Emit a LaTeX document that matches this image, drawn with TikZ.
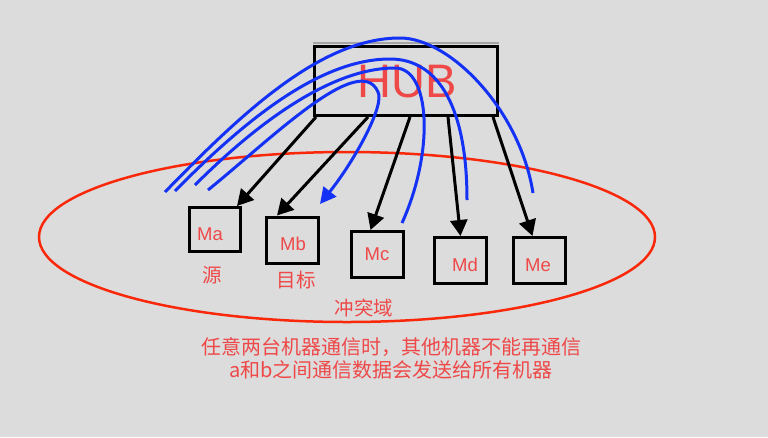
\documentclass[tikz,border=0pt]{standalone}
\usepackage{fontspec}
\setmainfont{Liberation Sans}
\newfontfamily\cjk{Noto Sans CJK SC}
\usetikzlibrary{arrows.meta,shapes.geometric,calc}
\definecolor{bgc}{RGB}{220,220,220}
\definecolor{txtred}{RGB}{238,72,72}
\definecolor{ellred}{RGB}{250,40,10}
\definecolor{flowblue}{RGB}{20,50,245}
\definecolor{shadowgray}{RGB}{165,165,165}
\begin{document}
\begin{tikzpicture}[x=1pt,y=-1pt,
  mbox/.style={draw=black, line width=3pt, minimum width=52pt, minimum height=46pt, inner sep=0pt},
  mlab/.style={text=txtred, font=\fontsize{18.5}{20}\selectfont, inner sep=0pt},
  cjklab/.style={text=txtred, font=\cjk\fontsize{19.5}{22}\selectfont, inner sep=0pt},
  link/.style={draw=black, line width=3pt, -{Triangle[length=16pt,width=17pt]}},
  flow/.style={draw=flowblue, line width=3pt},
]
\fill[bgc] (0,0) rectangle (768,437);
\useasboundingbox (0,0) rectangle (768,437);

% collision domain
\node[draw=ellred, line width=2.5pt, ellipse, minimum width=616pt, minimum height=170pt, inner sep=0pt] (dom) at (347,237) {};

% hub
\draw[shadowgray, line width=2pt] (313,42.5) -- (499,42.5);
\node[draw=black, line width=3pt, minimum width=183pt, minimum height=69pt, inner sep=0pt] (hub) at (406,81) {};
\node[text=txtred, font=\fontsize{47}{50}\selectfont, inner sep=0pt] (hubt) at (407,82) {HUB};

% machines
\node[mbox, minimum width=51pt, minimum height=44pt] (ma) at (215,229.5) {};
\node[mbox] (mb) at (292.5,240) {};
\node[mbox] (mc) at (377.5,254.5) {};
\node[mbox] (md) at (460.5,260.5) {};
\node[mbox] (me) at (539.5,260.5) {};
\node[mlab] (mat) at (210,234) {Ma};
\node[mlab] (mbt) at (293,244) {Mb};
\node[mlab] (mct) at (377,254) {Mc};
\node[mlab] (mdt) at (465,265) {Md};
\node[mlab] (met) at (538,265) {Me};

% labels
\node[cjklab] (src) at (212,275) {源};
\node[cjklab] (dst) at (296,280) {目标};
\node[cjklab] (domt) at (364,308) {冲突域};
\node[text=txtred, font=\cjk\fontsize{20}{23}\selectfont, align=center, inner sep=0pt] (note) at (391,358)
  {任意两台机器通信时，其他机器不能再通信\\a和b之间通信数据会发送给所有机器};

% hub to machines
\draw[link] ([xshift=3pt]hub.south west) -- ([xshift=-5pt]ma.north east);
\draw[link] ([xshift=55pt]hub.south west) -- ([xshift=12pt]mb.north west);
\draw[link] ([xshift=97pt]hub.south west) -- ([xshift=-7pt]mc.north);
\draw[link] ([xshift=135pt]hub.south west) -- (md.north);
\draw[link] ([xshift=180pt]hub.south west) -- ([xshift=-7pt]me.north);

% blue flows from source
\coordinate (sA) at (165,192);
\coordinate (sB) at (175,191);
\coordinate (sC) at (195,185);
\coordinate (sD) at (208,190);
\coordinate (eA) at (533,193);
\coordinate (eB) at (467,200);
\coordinate (eC) at (402,223);
\coordinate (eD) at (320,204);
\draw[flow] (sA) .. controls (240,115) and (320,38) .. (400,38)
  .. controls (450,38) and (520,110) .. (eA);
\draw[flow] (sB) .. controls (245,120) and (320,59) .. (390,59)
  .. controls (440,59) and (467,110) .. (eB);
\draw[flow] (sC) .. controls (255,125) and (330,68) .. (395,68)
  .. controls (430,68) and (435,150) .. (eC);
\draw[flow, -{Triangle[length=16pt,width=16pt]}] (sD) .. controls (270,140) and (360,50) .. (378,92)
  .. controls (385,105) and (355,160) .. (eD);
\end{tikzpicture}
\end{document}
